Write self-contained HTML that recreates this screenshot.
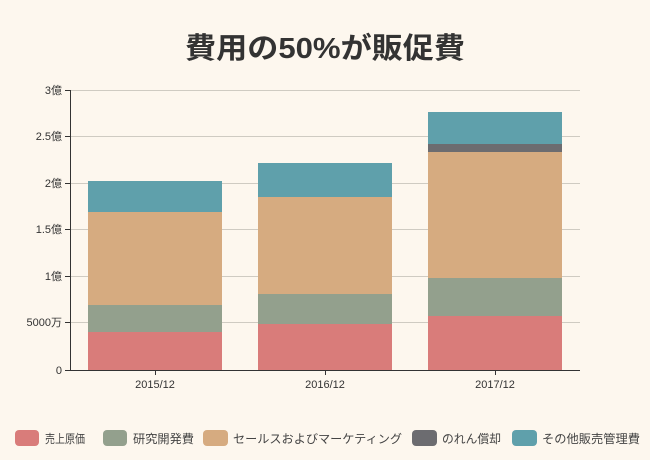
<!DOCTYPE html>
<html><head><meta charset="utf-8"><style>
body{margin:0;background:#fdf7ee;}
svg{display:block;font-family:"Liberation Sans","Noto Sans CJK JP",sans-serif;}
</style></head><body>
<svg width="650" height="460" viewBox="0 0 650 460">
<rect width="650" height="460" fill="#fdf7ee"/>
<text x="325" y="58" text-anchor="middle" font-size="29" font-weight="bold" fill="#333" textLength="280" lengthAdjust="spacingAndGlyphs">費用の50%が販促費</text>
<g stroke="#cfcbc2" stroke-width="1">
<line x1="70" y1="90.5" x2="580" y2="90.5"/><line x1="70" y1="136.5" x2="580" y2="136.5"/>
<line x1="70" y1="183.5" x2="580" y2="183.5"/><line x1="70" y1="229.5" x2="580" y2="229.5"/>
<line x1="70" y1="276.5" x2="580" y2="276.5"/><line x1="70" y1="322.5" x2="580" y2="322.5"/>
</g>
<rect x="88" y="332" width="134" height="38" fill="#d97c7a"/>
<rect x="88" y="305" width="134" height="27" fill="#93a08d"/>
<rect x="88" y="212" width="134" height="93" fill="#d6ab80"/>
<rect x="88" y="181" width="134" height="31" fill="#5fa0ab"/>
<rect x="258" y="324" width="134" height="46" fill="#d97c7a"/>
<rect x="258" y="294" width="134" height="30" fill="#93a08d"/>
<rect x="258" y="197" width="134" height="97" fill="#d6ab80"/>
<rect x="258" y="163" width="134" height="34" fill="#5fa0ab"/>
<rect x="428" y="316" width="134" height="54" fill="#d97c7a"/>
<rect x="428" y="278" width="134" height="38" fill="#93a08d"/>
<rect x="428" y="152" width="134" height="126" fill="#d6ab80"/>
<rect x="428" y="144" width="134" height="8" fill="#6c6c70"/>
<rect x="428" y="112" width="134" height="32" fill="#5fa0ab"/>
<g stroke="#333" stroke-width="1">
<line x1="70.5" y1="90" x2="70.5" y2="370"/><line x1="70" y1="370.5" x2="580" y2="370.5"/>
<line x1="65" y1="90.5" x2="70" y2="90.5"/><line x1="65" y1="136.5" x2="70" y2="136.5"/>
<line x1="65" y1="183.5" x2="70" y2="183.5"/><line x1="65" y1="229.5" x2="70" y2="229.5"/>
<line x1="65" y1="276.5" x2="70" y2="276.5"/><line x1="65" y1="322.5" x2="70" y2="322.5"/>
<line x1="65" y1="370.5" x2="70" y2="370.5"/>
<line x1="155.5" y1="370" x2="155.5" y2="375"/><line x1="325.5" y1="370" x2="325.5" y2="375"/><line x1="495.5" y1="370" x2="495.5" y2="375"/>
</g>
<g font-size="11" fill="#333" text-anchor="end">
<text x="62" y="94">3億</text><text x="62" y="140">2.5億</text><text x="62" y="187">2億</text>
<text x="62" y="233">1.5億</text><text x="62" y="280">1億</text><text x="62" y="326">5000万</text><text x="62" y="374">0</text>
</g>
<g font-size="11" fill="#333" text-anchor="middle">
<text x="155" y="388">2015/12</text><text x="325" y="388">2016/12</text><text x="495" y="388">2017/12</text>
</g>
<g font-size="12" fill="#444">
<rect x="15" y="430" width="24" height="16" rx="4" fill="#d97c7a"/><text x="45" y="443" textLength="40" lengthAdjust="spacingAndGlyphs">売上原価</text>
<rect x="103" y="430" width="24" height="16" rx="4" fill="#93a08d"/><text x="133" y="443" textLength="61" lengthAdjust="spacingAndGlyphs">研究開発費</text>
<rect x="203" y="430" width="25" height="16" rx="4" fill="#d6ab80"/><text x="233" y="443" textLength="169" lengthAdjust="spacingAndGlyphs">セールスおよびマーケティング</text>
<rect x="412" y="430" width="25" height="16" rx="4" fill="#6c6c70"/><text x="442" y="443" textLength="59" lengthAdjust="spacingAndGlyphs">のれん償却</text>
<rect x="512" y="430" width="25" height="16" rx="4" fill="#5fa0ab"/><text x="542" y="443" textLength="98" lengthAdjust="spacingAndGlyphs">その他販売管理費</text>
</g>
</svg>
</body></html>
